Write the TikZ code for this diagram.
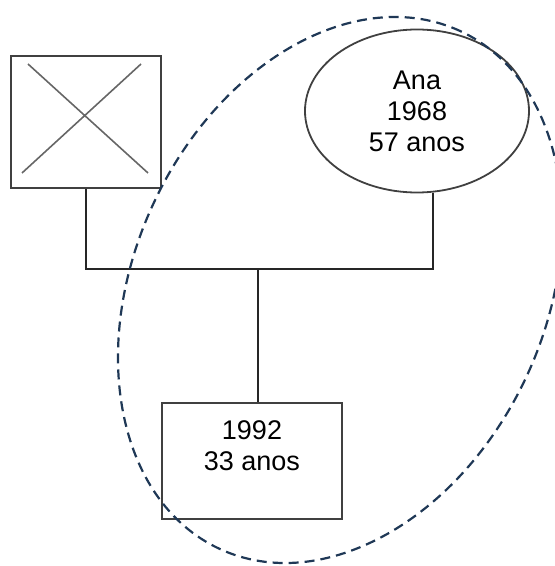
\documentclass[tikz,border=0pt]{standalone}
\usepackage{fontspec}
\setmainfont{Liberation Sans}
\usetikzlibrary{shapes.geometric,calc}

\definecolor{groupblue}{RGB}{31,56,86}

\begin{document}
\begin{tikzpicture}[x=1pt,y=1pt,
  person/.style={draw=black!75,line width=1.8pt,align=center,inner sep=0pt,
                 font=\fontsize{27}{31}\selectfont},
  tie/.style={line width=1.8pt,black!85},
  group/.style={draw=groupblue,line width=2.2pt,dash pattern=on 10pt off 6pt}]
\useasboundingbox (0,0) rectangle (555,566);

% deceased father, crossed square
\node at (86,444) [person,rectangle,minimum width=150,minimum height=132,
  path picture={
    \draw[black!60,line width=1.6pt]
      ($(path picture bounding box.north west)+(17,-8)$) --
      ($(path picture bounding box.south east)+(-13,15)$)
      ($(path picture bounding box.south west)+(11,15)$) --
      ($(path picture bounding box.north east)+(-20,-8)$);}] (pai) {};

% mother
\node at (417,455) [person,ellipse,minimum width=224,minimum height=163] (ana)
  {Ana\\1968\\57 anos};

% child
\node at (252,105) [person,rectangle,minimum width=180,minimum height=116] (filho)
  {1992\\33 anos\\\mbox{}};

\coordinate (maeb) at ($(ana.south)+(16,0)$);
\coordinate (bar) at ($(pai.south)!0.5!(maeb)+(-1.5,-78)$);

\draw[tie] (pai.south) |- (bar) -| (maeb);
\draw[tie] (bar) -- (bar |- filho.north);

% household
\draw[group] (340,276) ellipse [x radius=285.5,y radius=205.6,rotate=65];

\end{tikzpicture}
\end{document}
